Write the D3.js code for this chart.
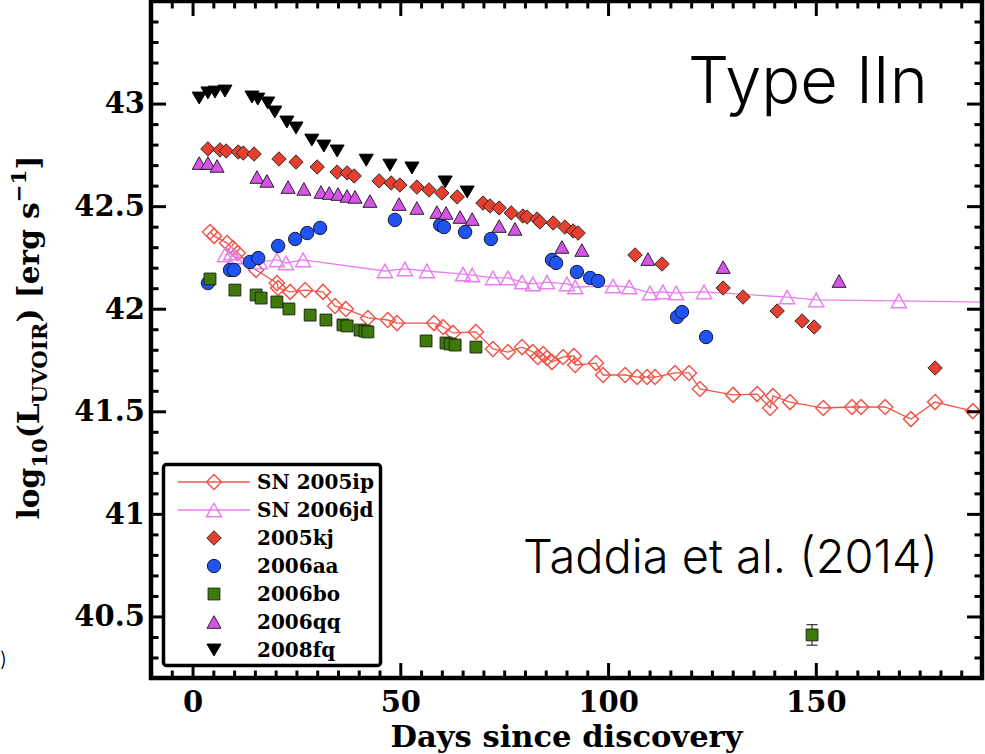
<!DOCTYPE html>
<html>
<head>
<meta charset="utf-8">
<script src="https://cdn.jsdelivr.net/npm/d3@7"></script>
<style>
  html, body { margin: 0; padding: 0; background: #fff; }
  svg { display: block; }
  .axis text { font-family: "DejaVu Serif", "Liberation Serif", serif; font-weight: bold; fill: #000; }
  .axis path { display: none; }
  .axis line { stroke: #000; }
</style>
</head>
<body>
<svg id="chart" width="985" height="754"></svg>
<script>
// ---- Light curves: days since discovery and log10(L_UVOIR) ----
const sn2005ipDays = [4.2, 5.2, 8.3, 9.7, 10.9, 15.3, 20.3, 20.6, 23.5, 27.1, 31.4, 34.3, 36.9, 42.2, 47.0, 49.2, 58.1, 60.3, 62.7, 68.2, 72.3, 75.9, 79.3, 81.9, 83.1, 84.4, 85.3, 86.5, 89.2, 91.8, 92.1, 97.1, 98.8, 104.1, 107.0, 109.4, 111.3, 116.1, 119.5, 122.1, 130.1, 135.9, 139.0, 139.7, 143.8, 151.8, 158.7, 160.9, 166.7, 172.9, 178.7, 187.8, 197.0];
const sn2005ipLum  = [42.374, 42.355, 42.320, 42.296, 42.272, 42.189, 42.125, 42.101, 42.082, 42.091, 42.082, 42.013, 41.999, 41.955, 41.945, 41.930, 41.930, 41.911, 41.882, 41.887, 41.804, 41.789, 41.813, 41.789, 41.765, 41.779, 41.760, 41.740, 41.765, 41.770, 41.726, 41.735, 41.677, 41.677, 41.667, 41.667, 41.667, 41.687, 41.687, 41.609, 41.580, 41.584, 41.516, 41.575, 41.545, 41.516, 41.521, 41.521, 41.521, 41.462, 41.545, 41.501, 41.500];

const sn2006jdDays = [7.8, 9.3, 10.2, 16.2, 20.3, 22.5, 26.6, 46.3, 51.1, 56.4, 65.1, 67.3, 72.3, 75.9, 79.3, 81.9, 85.3, 90.1, 92.1, 101.2, 105.1, 110.1, 113.2, 116.4, 123.1, 143.1, 150.1, 170.0, 197.0];
const sn2006jdLum  = [42.262, 42.272, 42.252, 42.228, 42.238, 42.223, 42.238, 42.184, 42.194, 42.184, 42.169, 42.164, 42.150, 42.150, 42.130, 42.121, 42.130, 42.121, 42.106, 42.111, 42.106, 42.077, 42.082, 42.077, 42.082, 42.057, 42.043, 42.038, 42.030];

const sn2005kjDays = [3.7, 6.6, 8.1, 11.0, 12.2, 14.8, 20.8, 24.9, 30.0, 34.8, 37.2, 38.9, 44.9, 47.8, 49.9, 54.0, 56.9, 60.0, 63.7, 69.9, 71.6, 73.8, 76.7, 79.5, 80.5, 82.9, 83.6, 86.8, 89.6, 91.6, 92.8, 106.5, 113.0, 127.7, 132.5, 140.7, 146.7, 149.6, 178.7];
const sn2005kjLum  = [42.779, 42.774, 42.769, 42.764, 42.759, 42.754, 42.730, 42.715, 42.691, 42.666, 42.662, 42.647, 42.623, 42.613, 42.603, 42.593, 42.579, 42.564, 42.545, 42.515, 42.501, 42.491, 42.467, 42.452, 42.447, 42.437, 42.423, 42.418, 42.398, 42.379, 42.369, 42.262, 42.218, 42.101, 42.057, 41.989, 41.940, 41.911, 41.711];

const sn2006aaDays = [3.7, 9.0, 10.0, 13.8, 15.8, 20.6, 24.7, 27.6, 30.7, 48.7, 59.6, 60.5, 65.6, 71.8, 86.5, 87.5, 92.5, 95.7, 97.6, 116.6, 117.8, 123.6];
const sn2006aaLum  = [42.125, 42.189, 42.189, 42.228, 42.247, 42.306, 42.340, 42.369, 42.394, 42.433, 42.408, 42.398, 42.374, 42.340, 42.238, 42.223, 42.179, 42.150, 42.135, 41.960, 41.984, 41.862];

const sn2006boDays = [4.2, 10.2, 15.3, 16.5, 20.3, 23.2, 28.3, 32.1, 36.2, 37.2, 40.3, 41.5, 42.2, 56.2, 61.0, 62.0, 63.2, 68.2, 149.1];
const sn2006boLum  = [42.145, 42.091, 42.067, 42.052, 42.033, 41.999, 41.969, 41.945, 41.921, 41.916, 41.896, 41.891, 41.887, 41.843, 41.833, 41.828, 41.823, 41.813, 40.410];
const sn2006boErr  = [0, 0, 0, 0, 0, 0, 0, 0, 0, 0, 0, 0, 0, 0, 0, 0, 0, 0, 0.05];

const sn2006qqDays = [1.6, 3.7, 5.9, 15.5, 17.9, 23.0, 26.8, 30.9, 32.9, 35.0, 37.2, 39.1, 42.7, 49.7, 54.0, 58.8, 61.0, 64.4, 67.3, 73.8, 77.6, 88.9, 93.7, 109.6, 127.7, 155.6];
const sn2006qqLum  = [42.710, 42.710, 42.696, 42.642, 42.623, 42.593, 42.584, 42.569, 42.564, 42.559, 42.550, 42.545, 42.525, 42.510, 42.491, 42.471, 42.467, 42.447, 42.437, 42.403, 42.389, 42.301, 42.286, 42.242, 42.203, 42.135];

const sn2008fqDays = [1.6, 3.7, 5.4, 7.8, 14.3, 15.7, 18.1, 19.8, 22.7, 24.9, 28.7, 31.6, 34.8, 41.8, 47.5, 52.8, 60.8, 66.1];
const sn2008fqLum  = [43.027, 43.052, 43.056, 43.061, 43.032, 43.022, 43.003, 42.959, 42.910, 42.881, 42.822, 42.793, 42.769, 42.724, 42.700, 42.686, 42.618, 42.569];

// ---- Axis set-up ----
const xDomain = [-10, 190];
const yDomain = [40.2, 43.5];
const xMajorTicks = [0, 50, 100, 150];
const yMajorTicks = [40.5, 41, 41.5, 42, 42.5, 43];
const yTickLabels = ["40.5", "41", "41.5", "42", "42.5", "43"];
const xTitle = "Days since discovery";
const panelLabel = "Type IIn";
const sourceLabel = "Taddia et al. (2014)";

// ---- Custom marker shapes (size = half-width in px) ----
const diamond = { draw(ctx, r) { ctx.moveTo(0, -r); ctx.lineTo(r, 0); ctx.lineTo(0, r); ctx.lineTo(-r, 0); ctx.closePath(); } };
const triUp   = { draw(ctx, r) { const h = r * 0.9; ctx.moveTo(0, -h); ctx.lineTo(r, h); ctx.lineTo(-r, h); ctx.closePath(); } };
const triDown = { draw(ctx, r) { const h = r * 0.85; ctx.moveTo(-r, -h); ctx.lineTo(r, -h); ctx.lineTo(0, h); ctx.closePath(); } };
const square  = { draw(ctx, r) { ctx.rect(-r, -r, 2 * r, 2 * r); } };
const circle  = { draw(ctx, r) { ctx.moveTo(r, 0); ctx.arc(0, 0, r, 0, 2 * Math.PI); } };

const series = [
  { name: "SN 2005ip", days: sn2005ipDays, lum: sn2005ipLum, shape: diamond, r: 7.5, fill: "none", stroke: "#f0564a", sw: 1.5, line: true },
  { name: "SN 2006jd", days: sn2006jdDays, lum: sn2006jdLum, shape: triUp,   r: 7.5, fill: "none", stroke: "#ea7ef0", sw: 1.5, line: true },
  { name: "2005kj",    days: sn2005kjDays, lum: sn2005kjLum, shape: diamond, r: 7.2, fill: "#e63f30", stroke: "#2a2a2a", sw: 1 },
  { name: "2006aa",    days: sn2006aaDays, lum: sn2006aaLum, shape: circle,  r: 6.7, fill: "#2153f2", stroke: "#1a1a2a", sw: 1 },
  { name: "2006bo",    days: sn2006boDays, lum: sn2006boLum, shape: square,  r: 5.9, fill: "#3d7a0b", stroke: "#1e2a10", sw: 1, err: sn2006boErr },
  { name: "2006qq",    days: sn2006qqDays, lum: sn2006qqLum, shape: triUp,   r: 7,   fill: "#d655e6", stroke: "#2a2030", sw: 1 },
  { name: "2008fq",    days: sn2008fqDays, lum: sn2008fqLum, shape: triDown, r: 7,   fill: "#000000", stroke: "#000000", sw: 1 }
];

const svg = d3.select("#chart");
const frame = { left: 151, right: 982, top: 1, bottom: 678 };
const x = d3.scaleLinear().domain(xDomain).range([frame.left, frame.right]);
const y = d3.scaleLinear().domain(yDomain).range([frame.bottom, frame.top]);

svg.append("defs").append("clipPath").attr("id", "plotClip")
  .append("rect").attr("x", frame.left).attr("y", frame.top)
  .attr("width", frame.right - frame.left).attr("height", frame.bottom - frame.top);

// ---- Data ----
const plot = svg.append("g").attr("clip-path", "url(#plotClip)");
const sym = d3.symbol();

series.forEach(s => {
  const pts = s.days.map((d, i) => ({ d, v: s.lum[i], e: s.err ? s.err[i] : 0 }));
  const g = plot.append("g");
  if (s.line) {
    g.append("path").datum(pts)
      .attr("fill", "none").attr("stroke", s.stroke).attr("stroke-width", 1.3)
      .attr("d", d3.line().x(p => x(p.d)).y(p => y(p.v)));
  }
  if (s.err) {
    const eg = g.selectAll("g.err").data(pts.filter(p => p.e > 0)).join("g")
      .attr("stroke", "#333").attr("stroke-width", 1.2);
    eg.append("line").attr("x1", p => x(p.d)).attr("x2", p => x(p.d))
      .attr("y1", p => y(p.v - p.e)).attr("y2", p => y(p.v + p.e));
    eg.append("line").attr("x1", p => x(p.d) - 5.5).attr("x2", p => x(p.d) + 5.5)
      .attr("y1", p => y(p.v - p.e)).attr("y2", p => y(p.v - p.e));
    eg.append("line").attr("x1", p => x(p.d) - 5.5).attr("x2", p => x(p.d) + 5.5)
      .attr("y1", p => y(p.v + p.e)).attr("y2", p => y(p.v + p.e));
  }
  g.selectAll("path.m").data(pts).join("path").attr("class", "m")
    .attr("transform", p => `translate(${x(p.d)},${y(p.v)})`)
    .attr("d", sym.type(s.shape).size(s.r)())
    .attr("fill", s.fill).attr("stroke", s.stroke).attr("stroke-width", s.sw);
});

// ---- Axes: inward ticks on all four sides ----
const xMinor = d3.range(-10, 190.01, 5).filter(v => !xMajorTicks.includes(v));
const yMinor = d3.range(40.2, 43.51, 0.1).map(v => +v.toFixed(1)).filter(v => !yMajorTicks.includes(v));
const MAJ = 15, MIN = 7.5;

function tickSet(axisFn, scale, values, size, pos, labels, pad) {
  const a = axisFn(scale).tickValues(values).tickSizeInner(-size).tickSizeOuter(0).tickPadding(pad || 0);
  if (labels) a.tickFormat((d, i) => labels[i]); else a.tickFormat("");
  return svg.append("g").attr("class", "axis").attr("transform", pos).call(a);
}
tickSet(d3.axisBottom, x, xMinor, MIN, `translate(0,${frame.bottom})`);
tickSet(d3.axisTop, x, xMinor, MIN, `translate(0,${frame.top})`);
tickSet(d3.axisTop, x, xMajorTicks, MAJ, `translate(0,${frame.top})`);
tickSet(d3.axisLeft, y, yMinor, MIN, `translate(${frame.left},0)`);
tickSet(d3.axisRight, y, yMinor, MIN, `translate(${frame.right},0)`);
tickSet(d3.axisRight, y, yMajorTicks, MAJ, `translate(${frame.right},0)`);
const xAx = tickSet(d3.axisBottom, x, xMajorTicks, MAJ, `translate(0,${frame.bottom})`, xMajorTicks.map(String), 13);
const yAx = tickSet(d3.axisLeft, y, yMajorTicks, MAJ, `translate(${frame.left},0)`, yTickLabels, 6);
svg.selectAll(".axis line").attr("stroke-width", 3);
xAx.selectAll("text").attr("font-size", 29);
yAx.selectAll("text").attr("font-size", 29);

svg.append("rect")
  .attr("x", frame.left).attr("y", frame.top)
  .attr("width", frame.right - frame.left).attr("height", frame.bottom - frame.top)
  .attr("fill", "none").attr("stroke", "#000").attr("stroke-width", 4.5);

// Scale a text's font size so that its advance equals the given width
function fitText(t, width) {
  const w = t.node().getComputedTextLength();
  const fs = +t.attr("font-size");
  t.attr("font-size", fs * width / w);
}

// ---- Axis titles ----
const serif = '"DejaVu Serif", "Liberation Serif", serif';
const xt = svg.append("text")
  .attr("x", (frame.left + frame.right) / 2).attr("y", 747)
  .attr("text-anchor", "middle").attr("font-family", serif).attr("font-weight", "bold")
  .attr("font-size", 27).text(xTitle);
fitText(xt, 352);

const yt = svg.append("text")
  .attr("transform", `translate(39,${(frame.top + frame.bottom) / 2 - 2}) rotate(-90)`)
  .attr("text-anchor", "middle").attr("font-family", serif).attr("font-weight", "bold")
  .attr("font-size", 27);
yt.append("tspan").text("log");
yt.append("tspan").attr("font-size", "0.72em").attr("dy", "0.36em").text("10");
yt.append("tspan").attr("dy", "-0.26em").text("(L");
yt.append("tspan").attr("font-size", "0.72em").attr("dy", "0.36em").text("UVOIR");
yt.append("tspan").attr("dy", "-0.26em").text(") [erg s");
yt.append("tspan").attr("font-size", "0.72em").attr("dy", "-0.6em").text("\u22121");
yt.append("tspan").attr("dy", "0.43em").text("]");
fitText(yt, 364);

// ---- Legend ----
const leg = svg.append("g");
leg.append("rect").attr("x", 163.5).attr("y", 464.5).attr("width", 217).attr("height", 201)
  .attr("rx", 3).attr("fill", "#fff").attr("stroke", "#000").attr("stroke-width", 3.5);
const rows = leg.selectAll("g.row").data(series).join("g").attr("class", "row")
  .attr("transform", (s, i) => `translate(214,${482 + i * 28})`);
rows.filter(s => s.line).append("line")
  .attr("x1", -36).attr("x2", 36).attr("stroke", s => s.stroke).attr("stroke-width", 1.3);
rows.append("path")
  .attr("d", s => d3.symbol().type(s.shape).size(s.r)())
  .attr("fill", s => s.fill).attr("stroke", s => s.stroke).attr("stroke-width", s => s.sw);
rows.append("text").attr("x", 43).attr("dy", "0.36em")
  .attr("font-family", serif).attr("font-weight", "bold").attr("font-size", 20)
  .text(s => s.name);

// ---- Panel annotations ----
const sans = 'Inter, Roboto, "Open Sans", "Liberation Sans", sans-serif';
const t1 = svg.append("text").attr("x", 688).attr("y", 103)
  .attr("font-family", sans).attr("font-weight", 300).attr("font-size", 66).text(panelLabel);
fitText(t1, 240);
const t2 = svg.append("text").attr("x", 523).attr("y", 573)
  .attr("font-family", sans).attr("font-weight", 300).attr("font-size", 48).text(sourceLabel);
fitText(t2, 415);
svg.append("text").attr("x", 0).attr("y", 666)
  .attr("font-family", sans).attr("font-weight", 300).attr("font-size", 20).text(")");
</script>
</body>
</html>
